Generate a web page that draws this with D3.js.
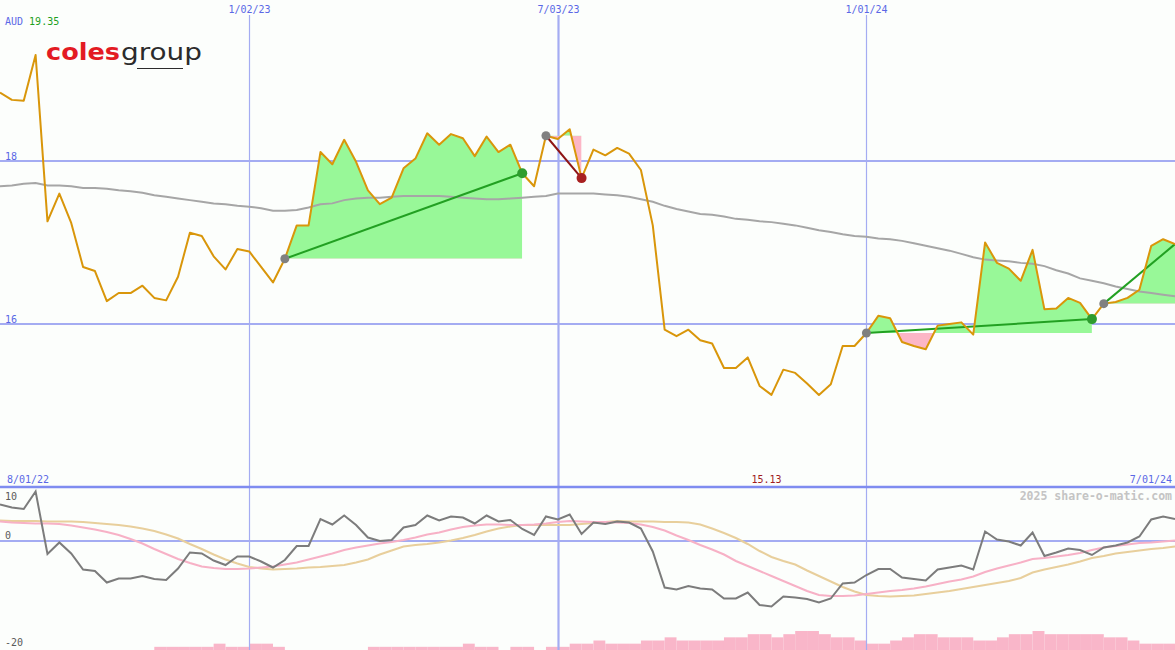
<!DOCTYPE html>
<html><head><meta charset="utf-8">
<script src="https://cdn.jsdelivr.net/npm/d3@7"></script>
<style>html,body{margin:0;padding:0;background:#fcfefc;overflow:hidden}svg{display:block}</style>
</head><body>
<svg id="c" width="1175" height="650"></svg>
<script>
// ---------- data ----------
const startWeek = "2022-08-08";            // first weekly close (Mondays)
const endDate = "2024-07-01";
const price = [18.84,18.75,18.74,19.30,17.26,17.60,17.24,16.70,16.65,16.28,
  16.38,16.38,16.47,16.32,16.29,16.58,17.12,17.08,16.83,16.67,
  16.92,16.89,16.70,16.51,16.80,17.21,17.21,18.11,17.96,18.26,
  17.99,17.64,17.47,17.55,17.91,18.03,18.34,18.20,18.33,18.28,
  18.06,18.30,18.11,18.20,17.85,17.69,18.31,18.27,18.39,17.79,
  18.14,18.07,18.16,18.09,17.89,17.21,15.93,15.85,15.93,15.80,
  15.76,15.46,15.46,15.59,15.24,15.13,15.44,15.40,15.27,15.13,
  15.26,15.73,15.73,15.89,16.10,16.07,15.78,15.73,15.69,15.98,
  16.00,16.02,15.87,17.00,16.75,16.68,16.53,16.91,16.18,16.19,
  16.32,16.26,16.06,16.25,16.27,16.32,16.42,16.96,17.04,16.98];
const movingAvg = [17.69,17.70,17.72,17.73,17.70,17.70,17.69,17.67,17.67,17.66,
  17.64,17.63,17.61,17.58,17.56,17.54,17.52,17.50,17.48,17.47,
  17.45,17.44,17.42,17.39,17.39,17.40,17.43,17.47,17.48,17.52,
  17.54,17.55,17.55,17.56,17.57,17.57,17.57,17.57,17.56,17.55,
  17.54,17.53,17.53,17.54,17.55,17.56,17.57,17.60,17.60,17.60,
  17.60,17.59,17.58,17.56,17.53,17.50,17.45,17.41,17.38,17.35,
  17.34,17.32,17.29,17.28,17.26,17.25,17.23,17.21,17.18,17.15,
  17.13,17.10,17.08,17.07,17.05,17.04,17.02,16.99,16.96,16.93,
  16.90,16.86,16.82,16.79,16.78,16.77,16.75,16.74,16.71,16.66,
  16.62,16.56,16.53,16.50,16.46,16.43,16.40,16.38,16.36,16.34];
const oscillator = [7.3,6.7,6.4,9.9,-2.6,-0.3,-2.5,-5.7,-6.0,-8.3,
  -7.5,-7.5,-7.0,-7.6,-7.8,-5.5,-2.3,-2.5,-3.9,-4.8,
  -3.1,-3.1,-4.1,-5.3,-3.8,-1.0,-1.0,4.4,3.3,5.1,
  3.2,0.7,0.0,0.2,2.7,3.2,5.1,4.1,4.9,4.7,
  3.5,5.1,3.9,4.2,2.4,1.2,4.9,4.3,5.3,1.4,
  3.7,3.4,3.9,3.7,2.5,-2.1,-9.3,-9.7,-9.0,-9.5,
  -9.7,-11.5,-11.5,-10.3,-12.8,-13.1,-11.1,-11.3,-11.6,-12.3,
  -11.5,-8.5,-8.3,-6.8,-5.6,-5.6,-7.3,-7.6,-7.9,-5.7,
  -5.3,-4.9,-5.7,1.9,0.3,-0.1,-0.9,1.7,-3.0,-2.3,
  -1.5,-1.8,-2.8,-1.3,-0.9,-0.3,0.9,4.3,4.9,4.4];
const signalFast = [3.9,3.7,3.6,3.5,3.5,3.4,3.1,2.7,2.3,1.8,
  1.2,0.4,-0.5,-1.6,-2.6,-3.6,-4.4,-5.1,-5.4,-5.6,
  -5.6,-5.5,-5.3,-5.1,-4.7,-4.3,-3.7,-3.1,-2.5,-1.8,
  -1.3,-0.9,-0.5,-0.2,0.2,0.7,1.3,1.7,2.3,2.8,
  3.1,3.3,3.3,3.2,3.2,3.3,3.5,3.8,4.0,3.9,
  3.8,3.8,3.7,3.6,3.3,2.8,2.1,1.1,0.2,-0.8,
  -1.7,-2.7,-4.0,-5.0,-6.0,-7.0,-8.0,-9.0,-10.0,-10.8,
  -11.0,-11.0,-10.9,-10.6,-10.3,-10.0,-9.8,-9.5,-9.1,-8.6,
  -8.1,-7.7,-7.1,-6.2,-5.5,-4.9,-4.3,-3.6,-3.4,-3.1,
  -2.8,-2.4,-1.8,-1.3,-1.0,-0.7,-0.4,-0.3,-0.1,0.1];
const signalSlow = [4.1,4.0,4.0,4.0,3.9,3.9,3.9,3.8,3.6,3.4,
  3.2,2.9,2.5,2.0,1.3,0.5,-0.6,-1.6,-2.7,-3.7,
  -4.5,-5.2,-5.5,-5.7,-5.6,-5.5,-5.3,-5.2,-5.0,-4.8,
  -4.3,-3.7,-2.7,-1.9,-1.1,-0.8,-0.6,-0.3,0.1,0.6,
  1.2,1.9,2.5,2.9,3.2,3.2,3.2,3.2,3.2,3.4,
  3.6,3.8,4.0,3.9,3.9,3.9,3.8,3.8,3.7,3.3,
  2.5,1.6,0.6,-0.6,-2.0,-3.2,-4.0,-4.7,-5.9,-7.0,
  -8.1,-9.2,-10.1,-10.8,-11.0,-11.1,-11.0,-10.9,-10.6,-10.3,
  -10.0,-9.6,-9.2,-8.8,-8.4,-8.0,-7.4,-6.3,-5.7,-5.2,
  -4.7,-4.1,-3.4,-3.0,-2.5,-2.2,-1.9,-1.6,-1.4,-1.1];
const volume = [0,0,0,0,0,0,0,0,0,0,
  0,0,0,1,1,1,1,1,2,1,
  1,2,2,1,0,0,0,0,0,0,
  0,1,1,1,1,1,1,1,1,2,
  1,1,0,1,1,0,1,1,2,2,
  3,2,2,2,3,3,4,3,3,3,
  3,4,4,5,5,4,5,6,6,5,
  4,4,3,2,2,3,4,5,5,4,
  4,4,3,3,4,5,5,6,5,5,
  5,5,5,4,4,3,2,2,2,0];
const trendStartIdx = [24, 46, 73, 93];
const trendEndIdx   = [44, 49, 92, 99];
const trendKind     = ["up", "down", "up", "open"];
const priceTicks = [16, 18];
const oscTicks = [10, 0, -20];
const dateGridDates = ["2023-01-02", "2023-07-03", "2024-01-01"];
const dateGridLabels = ["1/02/23", "7/03/23", "1/01/24"];
const firstLabel = "8/01/22", lastLabel = "7/01/24";
const currency = "AUD", maxLabel = "19.35", minLabel = "15.13";
const credit = "2025 share-o-matic.com";

// ---------- build ----------
const W = 1175, H = 650;
const parse = d3.timeParse("%Y-%m-%d");
const weeks = price.map((_, i) => d3.timeDay.offset(parse(startWeek), 7 * i));
const rows = weeks.map((d, i) => ({date: d, p: price[i], ma: movingAvg[i], osc: oscillator[i],
  f: signalFast[i], s: signalSlow[i], v: volume[i], i}));

const x = d3.scaleTime().domain([parse(startWeek), parse(endDate)]).range([0, W]);
const yP = d3.scaleLinear().domain([14, 20]).range([487, -2]);
const yO = d3.scaleLinear().domain([-20, 10]).range([641, 491]);
const yV = d3.scaleLinear().domain([0, 6]).range([650, 631]);

const svg = d3.select("#c");
svg.append("rect").attr("width", W).attr("height", H).attr("fill", "#fcfefc");
const defs = svg.append("defs");
defs.append("clipPath").attr("id", "mainClip").append("rect").attr("x", 0).attr("y", 0).attr("width", W).attr("height", 486);
defs.append("clipPath").attr("id", "lowClip").append("rect").attr("x", 0).attr("y", 489).attr("width", W).attr("height", H - 489);

const mono = "'DejaVu Sans Mono', monospace";
const gridC = "#a4acf2";

// volume bars
const g0 = svg.append("g");
g0.selectAll("rect.vol").data(rows.filter(r => r.v > 0 && r.i < rows.length - 1)).join("rect")
  .attr("x", r => x(r.date)).attr("width", r => x(weeks[r.i + 1]) - x(r.date))
  .attr("y", r => yV(r.v)).attr("height", r => yV(0) - yV(r.v)).attr("fill", "#f9b6c9");

// gridlines
dateGridDates.forEach((d, k) => {
  const xx = Math.round(x(parse(d))) + 0.5;
  svg.append("line").attr("x1", xx).attr("x2", xx).attr("y1", 15).attr("y2", H)
    .attr("stroke", gridC).attr("stroke-width", k === 1 ? 2.2 : 1.2);
  svg.append("text").attr("x", xx).attr("y", 12.5).attr("text-anchor", "middle")
    .attr("font-family", mono).attr("font-size", 10).attr("fill", "#5a68e6").text(dateGridLabels[k]);
});
priceTicks.forEach(t => {
  svg.append("line").attr("x1", 0).attr("x2", W).attr("y1", yP(t)).attr("y2", yP(t))
    .attr("stroke", gridC).attr("stroke-width", 2);
  svg.append("text").attr("x", 5).attr("y", yP(t) - 1.5).attr("font-family", mono).attr("font-size", 10)
    .attr("fill", "#5a68e6").text(t);
});
svg.append("line").attr("x1", 0).attr("x2", W).attr("y1", 487).attr("y2", 487)
  .attr("stroke", "#7f8cf0").attr("stroke-width", 2.5);
svg.append("line").attr("x1", 0).attr("x2", W).attr("y1", yO(0)).attr("y2", yO(0))
  .attr("stroke", gridC).attr("stroke-width", 2);

// trend fills
const main = svg.append("g").attr("clip-path", "url(#mainClip)");
trendStartIdx.forEach((s, k) => {
  const e = trendEndIdx[k];
  const seg = rows.slice(s, e + 1);
  const base = price[s];
  const area = d3.area().x(d => x(d.date)).y0(yP(base)).y1(d => yP(d.p));
  const x0 = x(weeks[s]), x1 = x(weeks[e]);
  const idU = "tu" + k, idD = "td" + k;
  defs.append("clipPath").attr("id", idU).append("rect").attr("x", x0).attr("y", 0).attr("width", x1 - x0).attr("height", yP(base));
  defs.append("clipPath").attr("id", idD).append("rect").attr("x", x0).attr("y", yP(base)).attr("width", x1 - x0).attr("height", 487 - yP(base));
  main.append("path").datum(seg).attr("d", area).attr("fill", "#98f898").attr("clip-path", `url(#${idU})`);
  main.append("path").datum(seg).attr("d", area).attr("fill", "#fcb6c6").attr("clip-path", `url(#${idD})`);
});

// moving average
main.append("path").datum(rows).attr("fill", "none").attr("stroke", "#a6a6a6").attr("stroke-width", 2)
  .attr("d", d3.line().x(d => x(d.date)).y(d => yP(d.ma)));

// trend lines
trendStartIdx.forEach((s, k) => {
  const e = trendEndIdx[k];
  const col = trendKind[k] === "down" ? "#8e1414" : "#22a022";
  main.append("line").attr("x1", x(weeks[s])).attr("y1", yP(price[s])).attr("x2", x(weeks[e])).attr("y2", yP(price[e]))
    .attr("stroke", col).attr("stroke-width", 2);
});

// price line
main.append("path").datum(rows).attr("fill", "none").attr("stroke", "#d9960a").attr("stroke-width", 2)
  .attr("stroke-linejoin", "round").attr("d", d3.line().x(d => x(d.date)).y(d => yP(d.p)));

// markers
trendStartIdx.forEach((s, k) => {
  const e = trendEndIdx[k];
  main.append("circle").attr("cx", x(weeks[s])).attr("cy", yP(price[s])).attr("r", 4.5).attr("fill", "#808080");
  if (trendKind[k] !== "open") {
    main.append("circle").attr("cx", x(weeks[e])).attr("cy", yP(price[e])).attr("r", 5)
      .attr("fill", trendKind[k] === "down" ? "#a82020" : "#2e9c2e");
  }
});

// lower panel lines
const low = svg.append("g").attr("clip-path", "url(#lowClip)");
const lo = key => d3.line().x(d => x(d.date)).y(d => yO(d[key]));
low.append("path").datum(rows).attr("fill", "none").attr("stroke", "#e8cf9c").attr("stroke-width", 2).attr("d", lo("s"));
low.append("path").datum(rows).attr("fill", "none").attr("stroke", "#f7b1c6").attr("stroke-width", 2).attr("d", lo("f"));
low.append("path").datum(rows).attr("fill", "none").attr("stroke", "#7c7c7c").attr("stroke-width", 2).attr("d", lo("osc"));

// lower panel labels
const oscOff = {"10": 8.5, "0": -2.5, "-20": 5};
oscTicks.forEach(t => {
  svg.append("text").attr("x", 5).attr("y", yO(t) + oscOff[String(t)]).attr("font-family", mono)
    .attr("font-size", 10).attr("fill", "#5a5a5a").text(t);
});
svg.append("text").attr("x", 7).attr("y", 482.7).attr("font-family", mono).attr("font-size", 10)
  .attr("fill", "#5a68e6").text(firstLabel);
svg.append("text").attr("x", 1172).attr("y", 482.7).attr("text-anchor", "end").attr("font-family", mono)
  .attr("font-size", 10).attr("fill", "#5a68e6").text(lastLabel);
const minIdx = price.indexOf(d3.min(price));
svg.append("text").attr("x", x(weeks[minIdx]) - 5).attr("y", 482.7).attr("text-anchor", "middle").attr("font-family", mono)
  .attr("font-size", 10).attr("fill", "#a01c1c").text(minLabel);
svg.append("text").attr("x", 1172).attr("y", 499.5).attr("text-anchor", "end").attr("font-family", mono)
  .attr("font-size", 11.5).attr("font-weight", "bold").attr("fill", "#c4c4c4").text(credit);

// top-left labels
const tl = svg.append("text").attr("x", 5).attr("y", 24.5).attr("font-family", mono).attr("font-size", 10);
tl.append("tspan").attr("fill", "#5a68e6").text(currency + " ");
tl.append("tspan").attr("fill", "#1ea01e").text(maxLabel);

// logo
svg.append("text").attr("x", 46).attr("y", 59.5).attr("font-family", "'DejaVu Sans', sans-serif")
  .attr("font-weight", "bold").attr("font-size", 23).attr("fill", "#e31b23")
  .attr("textLength", 74).attr("lengthAdjust", "spacingAndGlyphs").text("coles");
svg.append("text").attr("x", 121).attr("y", 59.5).attr("font-family", "'DejaVu Sans', sans-serif")
  .attr("font-weight", "normal").attr("font-size", 23).attr("fill", "#2b2b2b")
  .attr("textLength", 81).attr("lengthAdjust", "spacingAndGlyphs").text("group");
svg.append("line").attr("x1", 137).attr("x2", 183).attr("y1", 68.5).attr("y2", 68.5).attr("stroke", "#2b2b2b").attr("stroke-width", 1.2);
</script>
</body></html>
